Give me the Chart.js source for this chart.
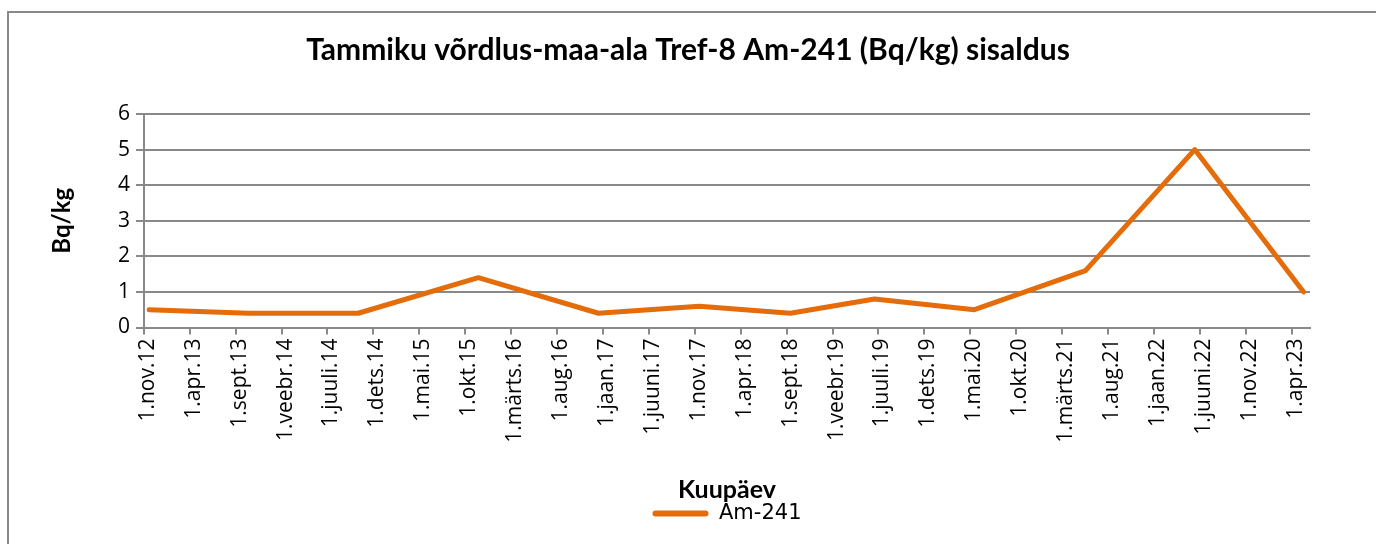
<!DOCTYPE html>
<html lang="et">
<head>
<meta charset="utf-8">
<title>Am-241 sisaldus</title>
<script src="https://cdn.jsdelivr.net/npm/chart.js@4.4.0/dist/chart.umd.min.js"></script>
<style>
    html, body { margin: 0; padding: 0; background: #fff; }
    .chart-wrap { position: relative; width: 1376px; height: 544px; }
</style>
</head>
<body>
<div class="chart-wrap"><canvas id="amChart"></canvas></div>
<script>
// Sampling dates and measured Am-241 activity (Bq/kg)
const sampleDates = ['2012-11-18', '2013-10-12', '2014-10-12', '2015-11-14', '2016-12-16', '2017-11-15',
                     '2018-09-13', '2019-06-19', '2020-05-15', '2021-05-18', '2022-05-15', '2023-05-11'];
const am241Values = [0.5, 0.4, 0.4, 1.4, 0.4, 0.6, 0.4, 0.8, 0.5, 1.6, 5.0, 1.0];

// Date axis: one tick every 5 months
const tickDates = ['2012-11-01', '2013-04-01', '2013-09-01', '2014-02-01', '2014-07-01', '2014-12-01',
                   '2015-05-01', '2015-10-01', '2016-03-01', '2016-08-01', '2017-01-01', '2017-06-01',
                   '2017-11-01', '2018-04-01', '2018-09-01', '2019-02-01', '2019-07-01', '2019-12-01',
                   '2020-05-01', '2020-10-01', '2021-03-01', '2021-08-01', '2022-01-01', '2022-06-01',
                   '2022-11-01', '2023-04-01'];
const tickLabels = ['1.nov.12', '1.apr.13', '1.sept.13', '1.veebr.14', '1.juuli.14', '1.dets.14',
                    '1.mai.15', '1.okt.15', '1.märts.16', '1.aug.16', '1.jaan.17', '1.juuni.17',
                    '1.nov.17', '1.apr.18', '1.sept.18', '1.veebr.19', '1.juuli.19', '1.dets.19',
                    '1.mai.20', '1.okt.20', '1.märts.21', '1.aug.21', '1.jaan.22', '1.juuni.22',
                    '1.nov.22', '1.apr.23'];
const axisStart = '2012-11-01';
const axisEnd = '2023-06-01';
const yMin = 0, yMax = 6, yStep = 1;

const GRID = '#898989';
const ORANGE = '#E46C0A';

// day number from an ISO date string
function toDay(s) {
    return Date.parse(s + 'T00:00:00Z') / 86400000;
}

// grey frame around the whole chart
const framePlugin = {
    id: 'frame',
    beforeDraw(chart) {
        const ctx = chart.ctx;
        ctx.save();
        ctx.fillStyle = '#fff';
        ctx.fillRect(0, 0, chart.width, chart.height);
        ctx.strokeStyle = GRID;
        ctx.lineWidth = 2;
        ctx.strokeRect(8, 12, chart.width + 10, chart.height + 10);
        ctx.restore();
    }
};

const ctx = document.getElementById('amChart').getContext('2d');
new Chart(ctx, {
    type: 'line',
    data: {
        datasets: [{
            label: 'Am-241',
            data: sampleDates.map((d, i) => ({ x: toDay(d), y: am241Values[i] })),
            borderColor: ORANGE,
            backgroundColor: ORANGE,
            borderWidth: 5,
            borderCapStyle: 'round',
            borderJoinStyle: 'round',
            pointRadius: 0,
            tension: 0
        }]
    },
    options: {
        responsive: true,
        maintainAspectRatio: false,
        animation: false,
        layout: {
            padding: { left: 0, right: 0, top: 0, bottom: 10 }
        },
        plugins: {
            title: {
                display: true,
                text: 'Tammiku võrdlus-maa-ala Tref-8 Am-241 (Bq/kg) sisaldus',
                color: '#000',
                font: { family: 'Lato', size: 30, weight: 'bold', lineHeight: 1.2 },
                padding: { top: 32, bottom: 46 }
            },
            legend: {
                position: 'bottom',
                fullSize: false,
                labels: {
                    color: '#000',
                    font: { family: 'DejaVu Sans', size: 21 },
                    boxWidth: 56,
                    boxHeight: 6,
                    padding: 1,
                    useBorderRadius: true,
                    generateLabels: chart => chart.data.datasets.map((ds, i) => ({
                        text: ds.label,
                        fillStyle: ds.borderColor,
                        strokeStyle: ds.borderColor,
                        lineWidth: 0,
                        borderRadius: 3,
                        fontColor: '#000',
                        hidden: false,
                        datasetIndex: i
                    }))
                }
            },
            tooltip: { enabled: false }
        },
        scales: {
            x: {
                type: 'linear',
                min: toDay(axisStart),
                max: toDay(axisEnd),
                afterBuildTicks: scale => {
                    scale.ticks = tickDates.map(d => ({ value: toDay(d) }));
                },
                afterFit: scale => {
                    scale.height = 174.5;
                },
                grid: {
                    display: true,
                    drawOnChartArea: false,
                    drawTicks: true,
                    tickLength: 7,
                    color: GRID,
                    lineWidth: 2
                },
                border: { color: GRID, width: 2 },
                ticks: {
                    autoSkip: false,
                    maxRotation: 90,
                    minRotation: 90,
                    labelOffset: 4,
                    padding: 4,
                    color: '#000',
                    font: { family: 'Open Sans', size: 21 },
                    callback: (value, index) => tickLabels[index]
                },
                title: {
                    display: true,
                    text: 'Kuupäev',
                    color: '#000',
                    font: { family: 'Lato', size: 25, weight: 'bold', lineHeight: 1 },
                    padding: { top: 0, bottom: 0 }
                }
            },
            y: {
                min: yMin,
                max: yMax,
                afterFit: scale => {
                    scale.width = 144;
                },
                grid: {
                    color: GRID,
                    lineWidth: 2,
                    tickLength: 8
                },
                border: { color: GRID, width: 2 },
                ticks: {
                    stepSize: yStep,
                    padding: 6,
                    color: '#000',
                    font: { family: 'Open Sans', size: 21 }
                },
                title: {
                    display: true,
                    text: 'Bq/kg',
                    color: '#000',
                    font: { family: 'Lato', size: 24, weight: 'bold', lineHeight: 1.2 },
                    padding: { top: 48, bottom: 0 }
                }
            },
            // empty right-hand margin so the plot ends short of the frame
            yRight: {
                position: 'right',
                afterFit: scale => {
                    scale.width = 66;
                },
                grid: { display: false },
                border: { display: false },
                ticks: { display: false }
            }
        }
    },
    plugins: [framePlugin]
});
</script>
</body>
</html>
